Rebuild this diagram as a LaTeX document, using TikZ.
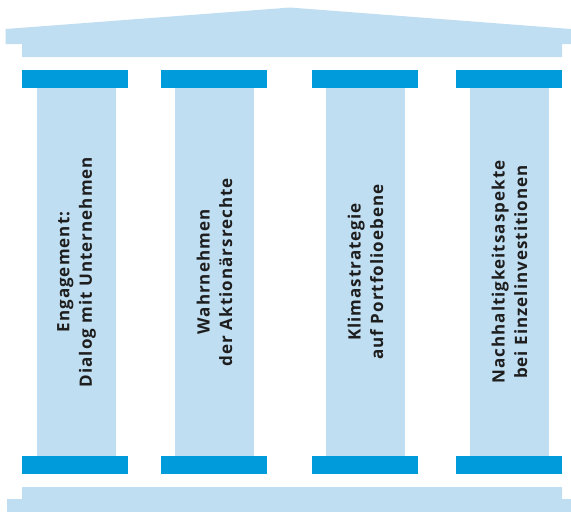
\documentclass[tikz,border=0pt]{standalone}
\usepackage{fontspec}
\setmainfont{Open Sans}
\newfontfamily\pillarfont[LetterSpace=6]{Open Sans}
\usepackage{tikz}
\definecolor{pale}{HTML}{C0DEF2}
\definecolor{deep}{HTML}{009BDB}
\definecolor{ink}{HTML}{1E1E1E}
\tikzset{
  CapStyle/.style = { rectangle, fill = deep, inner sep = 0pt,
                      minimum width = 106pt, minimum height = 18pt },
  ShaftStyle/.style = { rectangle, fill = pale, inner sep = 0pt,
                        minimum width = 79pt, minimum height = 368pt },
  LabelStyle/.style = { rotate = 90, align = center, text = ink,
                        font = \pillarfont\fontsize{17}{22.5}\selectfont\bfseries } }

\begin{document}
\begin{tikzpicture}[x=1pt,y=-1pt]
  \useasboundingbox (0,0) rectangle (571,512);
  % roof
  \fill[pale] (5.5,29) -- (290,7.5) -- (571,29) -- (571,44) -- (562,44)
    -- (562,57) -- (22,57) -- (22,44) -- (5.5,44) -- cycle;
  % base
  \fill[pale] (22,487) -- (562,487) -- (562,499) -- (571,499)
    -- (571,512) -- (7,512) -- (7,499) -- (22,499) -- cycle;

  \node[ShaftStyle] (s1) at (76.5,272) {};
  \node[ShaftStyle] (s2) at (214.5,272) {};
  \node[ShaftStyle] (s3) at (365.5,272) {};
  \node[ShaftStyle] (s4) at (509.5,272) {};

  \node[CapStyle] (t1) at (75,79) {};
  \node[CapStyle] (t2) at (214,79) {};
  \node[CapStyle] (t3) at (365,79) {};
  \node[CapStyle] (t4) at (509,79) {};

  \node[CapStyle] (b1) at (75,464.5) {};
  \node[CapStyle] (b2) at (214,464.5) {};
  \node[CapStyle] (b3) at (365,464.5) {};
  \node[CapStyle] (b4) at (509,464.5) {};

  \node[LabelStyle] (l1) at (s1) {Engagement:\\Dialog mit Unternehmen};
  \node[LabelStyle] (l2) at (s2) {Wahrnehmen\\der Aktionärsrechte};
  \node[LabelStyle] (l3) at (s3) {Klimastrategie\\auf Portfolioebene};
  \node[LabelStyle] (l4) at (s4) {Nachhaltigkeitsaspekte\\bei Einzelinvestitionen};
\end{tikzpicture}
\end{document}
